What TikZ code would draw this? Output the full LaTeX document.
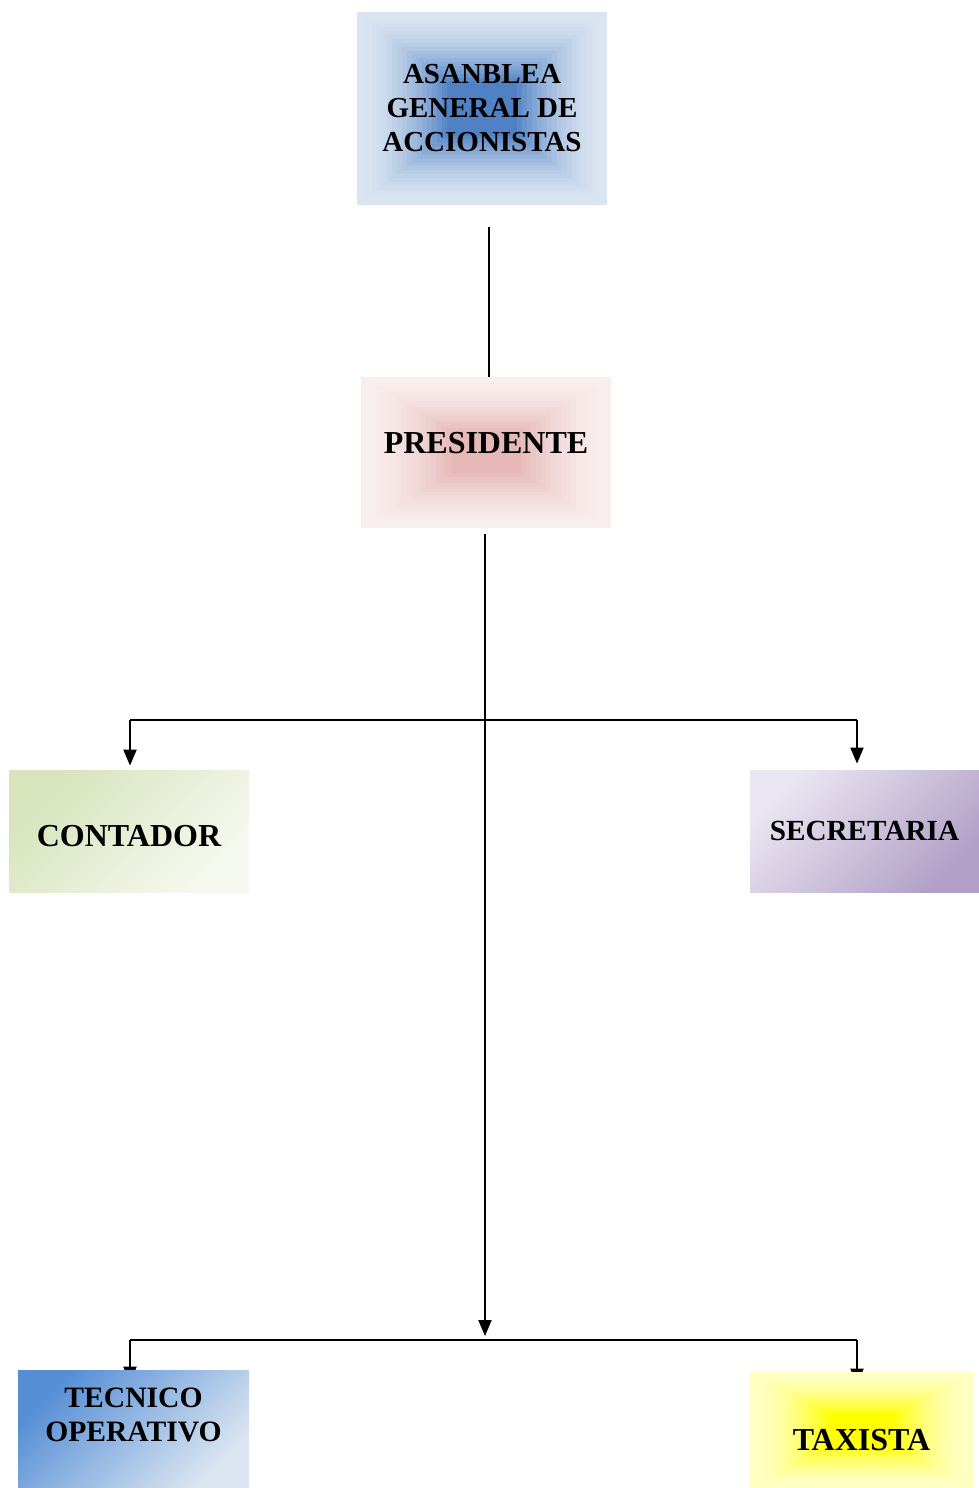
\documentclass[tikz,border=0pt]{standalone}
\usepackage{fontspec}
\setmainfont{Liberation Serif}
\usetikzlibrary{arrows.meta,calc,backgrounds}

\definecolor{azulClaro}{RGB}{219,229,241}
\definecolor{azulFuerte}{RGB}{79,129,196}
\definecolor{rosaClaro}{RGB}{249,238,238}
\definecolor{rosaFuerte}{RGB}{230,184,183}
\definecolor{verdeA}{RGB}{215,228,188}
\definecolor{verdeB}{RGB}{246,249,240}
\definecolor{lilaA}{RGB}{234,230,241}
\definecolor{lilaB}{RGB}{178,160,199}
\definecolor{celesteA}{RGB}{85,142,213}
\definecolor{celesteB}{RGB}{220,230,242}
\definecolor{amarilloClaro}{RGB}{255,255,196}
\definecolor{amarilloFuerte}{RGB}{255,255,0}

\tikzset{
  caja/.style={rectangle, inner sep=0pt, align=center,
    font=\bfseries\fontsize{16}{17}\selectfont},
  % relleno en bandas hacia el centro
  centro/.style 2 args={path picture={
    \foreach \k in {0,...,18}{
      \pgfmathsetmacro\f{\k*0.04}
      \pgfmathsetmacro\p{100*(\k/18)^1.7}
      \fill[#2!\p!#1]
        ($(path picture bounding box.north west)!\f!(path picture bounding box.center)$)
        rectangle
        ($(path picture bounding box.south east)!\f!(path picture bounding box.center)$);
    }}},
  diagonal/.style 2 args={shade, top color=#1, bottom color=#2, shading angle=45},
  linea/.style={line width=1pt},
  flecha/.style={-{Triangle[length=8pt,width=6.5pt]}}
}

\begin{document}
\begin{tikzpicture}[x=0.5pt,y=-0.5pt]
        \useasboundingbox (0,0) rectangle (979,1488);
        % Cajas
        \node[caja, centro={azulClaro}{azulFuerte}, minimum width=125pt, minimum height=96.5pt,
              font=\bfseries\fontsize{14.5}{17}\selectfont] (asamblea) at (482,108.5)
              {ASANBLEA\\GENERAL DE\\ACCIONISTAS};
        \node[caja, centro={rosaClaro}{rosaFuerte}, minimum width=125pt, minimum height=75.5pt,
              text depth=9.5pt] (presidente) at (486,452.5) {PRESIDENTE};
        \node[caja, diagonal={verdeA}{verdeB}, minimum width=120pt, minimum height=61pt,
              text height=15.5pt] (contador) at (129,831) {CONTADOR};
        \node[caja, diagonal={lilaA}{lilaB}, minimum width=114.5pt, minimum height=61pt,
              font=\bfseries\fontsize{14.6}{17}\selectfont] (secretaria) at (864.5,831) {SECRETARIA};
        \node[caja, diagonal={celesteA}{celesteB}, minimum width=115.5pt, minimum height=59pt,
              text depth=14pt, font=\bfseries\fontsize{14.8}{17}\selectfont] (tecnico) at (133.5,1429)
              {TECNICO\\OPERATIVO};
        \node[caja, centro={amarilloClaro}{amarilloFuerte}, minimum width=111.5pt, minimum height=58pt,
              text height=20.5pt] (taxista) at (861.5,1430) {TAXISTA};
        % Ramas
        \coordinate (izqMedia) at (130,720);
        \coordinate (derMedia) at (857,720);
        \coordinate (izqBaja) at (130,1340);
        \coordinate (derBaja) at (857,1340);
        \coordinate (ramaBaja) at (485,1340);
        % Conectores
        \begin{scope}[on background layer]
          \draw[linea] ([xshift=3.5pt,yshift=-11pt]asamblea.south)
            -- ([xshift=3.5pt]asamblea.south |- presidente.north);
          \draw[linea, flecha] ([yshift=-3pt]presidente.south -| ramaBaja) -- ([yshift=2pt]ramaBaja);
          \draw[linea] (izqMedia) -- (derMedia);
          \draw[linea, flecha] (izqMedia) -- ([yshift=2pt]izqMedia |- contador.north);
          \draw[linea, flecha] (derMedia) -- ([yshift=3pt]derMedia |- secretaria.north);
          \draw[linea] (izqBaja) -- (derBaja);
          \draw[linea, flecha] (izqBaja) -- ([yshift=-6.5pt]izqBaja |- tecnico.north);
          \draw[linea, flecha] (derBaja) -- ([yshift=-6.5pt]derBaja |- taxista.north);
        \end{scope}
\end{tikzpicture}
\end{document}
